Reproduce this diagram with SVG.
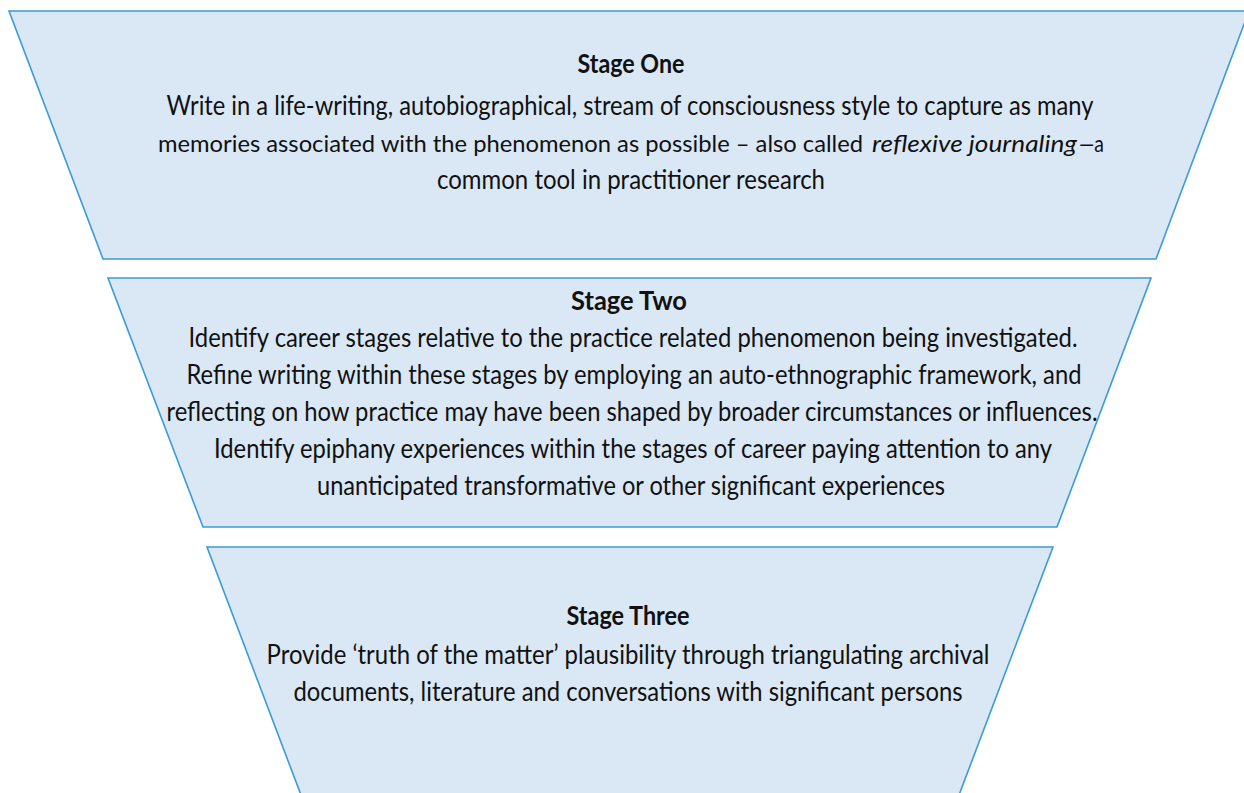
<svg xmlns="http://www.w3.org/2000/svg" width="1244" height="793" viewBox="0 0 1244 793">
  <style>
    .stage { fill: #DAE8F5; stroke: #3A9BD8; stroke-width: 1.6; stroke-linejoin: miter; }
    .title { font-family: Lato, "Liberation Sans", sans-serif; font-size: 26px; font-weight: bold; fill: #111; text-anchor: middle; }
    .body { font-family: Lato, "Liberation Sans", sans-serif; font-size: 26px; fill: #111; text-anchor: middle; }
    .run { font-family: Lato, "Liberation Sans", sans-serif; font-size: 24px; fill: #111; text-anchor: start; }
    .em { font-style: italic; }
  </style>
  <rect width="1244" height="793" fill="#FFFFFF"/>

  <!-- Funnel level 1 -->
  <g id="stage-one">
    <polygon class="stage" points="9,11 1249,11 1156,259 103,259"/>
    <text class="title" x="631" y="73" textLength="107" lengthAdjust="spacingAndGlyphs">Stage One</text>
    <text class="body" x="630" y="115" textLength="927" lengthAdjust="spacingAndGlyphs">Write in a life-writing, autobiographical, stream of consciousness style to capture as many</text>
    <!-- second line is set in three runs: roman, italic term, roman tail -->
    <text class="run" x="158" y="152" textLength="705" lengthAdjust="spacingAndGlyphs">memories associated with the phenomenon as possible – also called</text>
    <text class="run em" x="872" y="152" textLength="205" lengthAdjust="spacingAndGlyphs">reflexive journaling</text>
    <text class="run" x="1079" y="152" textLength="25" lengthAdjust="spacingAndGlyphs">—a</text>
    <text class="body" x="631" y="189" textLength="388" lengthAdjust="spacingAndGlyphs">common tool in practitioner research</text>
  </g>

  <!-- Funnel level 2 -->
  <g id="stage-two">
    <polygon class="stage" points="108,278 1151,278 1057,527 203,527"/>
    <text class="title" x="629" y="310" textLength="116" lengthAdjust="spacingAndGlyphs">Stage Two</text>
    <text class="body" x="633" y="347" textLength="889" lengthAdjust="spacingAndGlyphs">Identify career stages relative to the practice related phenomenon being investigated.</text>
    <text class="body" x="634" y="384" textLength="895" lengthAdjust="spacingAndGlyphs">Refine writing within these stages by employing an auto-ethnographic framework, and</text>
    <text class="body" x="632" y="421" textLength="931" lengthAdjust="spacingAndGlyphs">reflecting on how practice may have been shaped by broader circumstances or influences.</text>
    <text class="body" x="633" y="458" textLength="838" lengthAdjust="spacingAndGlyphs">Identify epiphany experiences within the stages of career paying attention to any</text>
    <text class="body" x="631" y="495" textLength="628" lengthAdjust="spacingAndGlyphs">unanticipated transformative or other significant experiences</text>
  </g>

  <!-- Funnel level 3 -->
  <g id="stage-three">
    <polygon class="stage" points="207,547 1053,547 959,795 301,795"/>
    <text class="title" x="628" y="625" textLength="123" lengthAdjust="spacingAndGlyphs">Stage Three</text>
    <text class="body" x="628" y="664" textLength="723" lengthAdjust="spacingAndGlyphs">Provide ‘truth of the matter’ plausibility through triangulating archival</text>
    <text class="body" x="628" y="701" textLength="669" lengthAdjust="spacingAndGlyphs">documents, literature and conversations with significant persons</text>
  </g>

  <g id="connectors"/>
</svg>
